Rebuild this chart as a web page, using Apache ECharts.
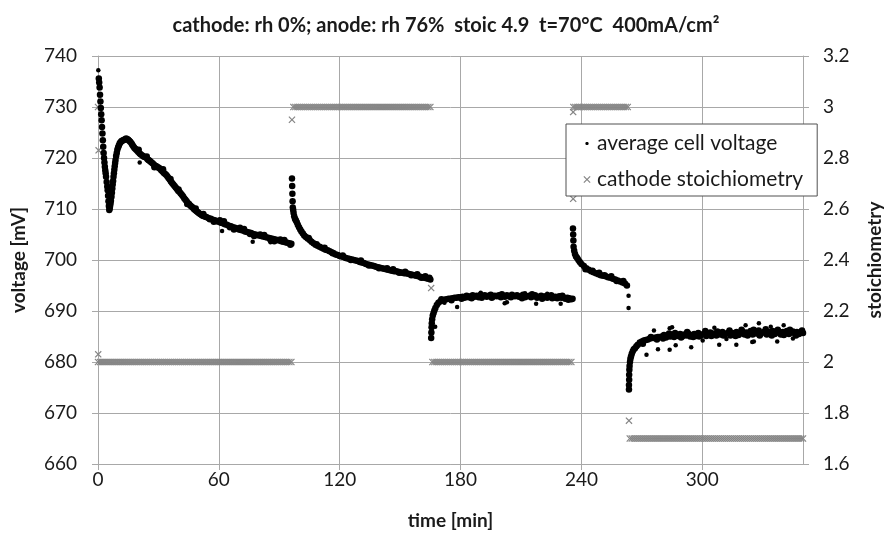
<!DOCTYPE html>
<html><head><meta charset="utf-8">
<script src="https://cdn.jsdelivr.net/npm/echarts@6/dist/echarts.min.js"></script>
<style>html,body{margin:0;padding:0;background:#fff}#c{width:892px;height:535px}</style>
</head><body><div id="c"></div>
<script>
// ---- data: [time (min), average cell voltage (mV)] – main trace ----
const voltSeg1 = [[0.4,735.6],[0.6,734.8],[0.8,733.8],[1.0,732.4],[1.2,731.1],[1.4,729.8],[1.6,728.6],[1.8,727.4],[2.0,726.1],[2.2,724.8],[2.4,723.5],[2.6,722.2],[2.8,721.0],[3.0,720.0],[3.2,719.1],[3.4,718.3],[3.6,717.6],[3.8,717.0],[4.0,716.3],[4.3,715.3],[4.6,714.4],[4.8,713.7],[5.0,712.6],[5.2,711.5],[5.4,710.6],[5.6,709.8],[5.8,710.1],[6.0,710.6],[6.2,711.1],[6.4,711.6],[6.7,712.4],[6.9,713.2],[7.1,714.0],[7.3,714.8],[7.5,715.5],[7.7,716.3],[7.9,717.0],[8.1,717.7],[8.3,718.4],[8.5,719.0],[8.7,719.6],[9.0,720.4],[9.3,721.0],[9.6,721.6],[10.0,722.1],[10.4,722.5],[10.8,722.9],[11.2,723.1],[11.6,723.3],[12,723.4],[12.5,723.5],[13,723.6],[13.5,723.7],[14,723.8],[14.6,723.7],[15,723.6],[15.5,723.4],[16,723.2],[16.6,722.9],[17,722.6],[17.5,722.3],[18,722.0],[18.5,721.8],[19,721.6],[19.5,721.4],[20,721.2],[20.7,720.9],[21.3,720.7],[22,720.5],[22.6,720.3],[23.2,720.2],[23.9,720.1],[24.5,719.8],[25,719.6],[25.5,719.5],[26,719.3],[26.6,719.1],[27.2,718.9],[27.8,718.7],[28.4,718.5],[29,718.4],[29.6,718.2],[30.2,718.1],[30.8,717.9],[31.4,717.6],[32,717.4],[32.6,717.1],[33.2,716.9],[33.8,716.7],[34.4,716.4],[35,716.1],[35.6,715.8],[36.2,715.4],[36.8,715.1],[37.4,714.8],[38,714.5],[38.6,714.2],[39.2,713.9],[39.8,713.6],[40.4,713.4],[41,713.1],[41.6,712.8],[42.2,712.5],[42.8,712.1],[43.4,711.8],[44,711.5],[44.6,711.2],[45.2,711.0],[45.8,710.7],[46.4,710.5],[47,710.3],[47.6,710.0],[48.2,709.8],[48.8,709.6],[49.4,709.4],[50,709.2],[50.7,709.0],[51.4,708.8],[52,708.7],[52.7,708.6],[53.4,708.5],[54,708.4],[55,708.2],[56,708.1],[57,707.9],[58,707.8],[59,707.6],[60,707.5],[61,707.3],[62,707.2],[63,707.0],[64,706.9],[65,706.7],[66,706.6],[67,706.4],[68,706.3],[69,706.2],[70,706.0],[71,705.9],[72,705.8],[73,705.6],[74,705.5],[75,705.4],[76,705.3],[77,705.1],[78,705.0],[79,704.9],[80,704.8],[81,704.7],[82,704.6],[83,704.5],[84,704.4],[85,704.3],[86,704.2],[87,704.1],[88,704.0],[89,703.9],[90,703.8],[91,703.7],[92,703.6],[93,703.5],[94,703.4],[95,703.3],[96,703.2],
  [20.2,721.6],[24.2,720.3],[28,718.2],[32.3,717.8],[36,715.9],[40,713.8],[44.3,711.0],[48.5,710.1],[52.3,709.0],[55.5,708.0],[57.5,707.5],[60.5,707.8],[62.5,707.6],[65.5,706.4],[67.5,706.0],[70.5,706.3],[72.5,706.1],[75.5,705.1],[77.5,704.7],[80.5,705.0],[82.5,704.9],[85.5,704.0],[87.5,703.7],[90.5,704.0],[92.5,703.9],[95.5,703.0]];
const voltSeg2 = [[96.3,716.0],[96.4,714.5],[96.5,713.0],[96.6,711.5],[96.7,710.3],[96.9,709.8],[97.1,709.2],[97.4,708.6],[97.8,708.1],[98.2,707.8],[98.7,707.4],[99.2,706.9],[99.8,706.4],[100.4,706.0],[101,705.6],[101.7,705.2],[102.4,704.8],[103.2,704.5],[104.1,704.2],[105.1,703.9],[106,703.6],[107,703.3],[108,703.0],[109,702.8],[110,702.6],[111,702.4],[112,702.2],[113,702.0],[114,701.9],[115,701.7],[116,701.5],[117,701.3],[118,701.1],[119,701.0],[120,700.8],[121,700.7],[122,700.6],[123,700.4],[124,700.3],[125,700.2],[126,700.1],[127,700.0],[128,699.9],[129,699.8],[130,699.6],[131,699.5],[132,699.4],[133,699.2],[134,699.1],[135,699.0],[136,698.9],[137,698.8],[138,698.7],[139,698.6],[140,698.5],[141,698.4],[142,698.3],[143,698.2],[144,698.1],[145,698.0],[146,697.9],[147,697.8],[148,697.8],[149,697.7],[150,697.6],[151,697.5],[152,697.4],[153,697.4],[154,697.3],[155,697.2],[156,697.1],[157,697.0],[158,696.9],[159,696.8],[160,696.7],[161,696.6],[162,696.5],[163,696.4],[164,696.3],[165,696.2],
  [104.6,704.3],[108.5,703.1],[112.5,702.4],[116.5,701.3],[121.5,700.9],[125.5,700.0],[130.5,699.9],[134.5,698.9],[139.5,698.4],[143.5,698.4],[146.5,698.2],[149.5,697.5],[152.5,697.7],[155.5,697.0],[158.5,697.2],[160.5,696.5],[162.5,696.8],[164.5,696.5]];
const voltSeg3 = [[165.4,684.7],[165.5,685.8],[165.6,686.8],[165.7,687.6],[165.9,688.4],[166.2,689.1],[166.6,689.6],[167,690.1],[167.5,690.6],[168.2,691.2],[169,691.6],[170,691.9],[171,692.1],[172,692.2],[173,692.3],[174,692.4],[175,692.4],[176,692.5],[177,692.6],[178,692.6],[179,692.7],[180,692.7],[181,692.8],[182,692.6],[183,693.0],[184,692.7],[185,692.9],[186,693.1],[187,692.8],[188,693.0],[189,692.7],[190,693.2],[191,692.9],[192,693.1],[193,692.8],[194,693.0],[195,693.2],[196,692.8],[197,693.0],[198,692.9],[199,693.1],[200,692.7],[201,693.0],[202,692.8],[203,693.1],[204,692.9],[205,692.7],[206,693.0],[207,692.9],[208,693.1],[209,692.8],[210,692.9],[211,693.2],[212,692.7],[213,692.9],[214,693.0],[215,692.7],[216,692.9],[217,693.1],[218,692.6],[219,692.8],[220,693.0],[221,692.7],[222,692.9],[223,692.6],[224,692.8],[225,693.1],[226,692.6],[227,692.8],[228,692.5],[229,692.9],[230,692.6],[231,692.7],[232,692.4],[233,692.6],[234,692.5],[235,692.3],[235.6,692.4],
  [170.5,692.3],[175.5,692.1],[180.5,692.4],[185.5,692.5],[190.5,692.6],[195.5,692.6],[200.5,693.3],[205.5,693.2],[210.5,692.5],[215.5,693.3],[220.5,692.4],[225.5,692.5],[230.5,693.0],[233.5,692.2]];
const voltSeg4 = [[235.8,706.2],[235.9,705.0],[236.0,703.8],[236.1,702.6],[236.4,701.8],[236.8,701.2],[237.3,700.7],[237.9,700.4],[238.5,700.0],[239.2,699.6],[240,699.2],[241.2,698.8],[242.4,698.4],[243.6,698.1],[244.8,697.8],[246,697.6],[247.2,697.4],[248.4,697.2],[249.6,697.0],[250.8,696.9],[252,696.8],[253.2,696.6],[254.4,696.5],[255.6,696.3],[256.8,696.2],[258,696.0],[259.2,695.8],[260.4,695.6],[261.6,695.4],[262.6,695.0],
  [242,698.2],[245.5,697.9],[248.8,697.5],[251.5,697.0],[254.8,696.8],[257.5,695.9],[260.8,695.9]];
const voltSeg5 = [[263.6,674.6],[263.6,675.5],[263.7,676.5],[263.7,677.5],[263.8,678.5],[263.9,679.2],[264.1,680.0],[264.3,680.6],[264.6,681.1],[265,681.6],[265.5,682.1],[266,682.5],[266.6,682.7],[267.3,683.1],[268,683.4],[269,683.8],[270,684.0],[271,684.2],[272,684.3],[273,684.4],[274,684.6],[275,684.7],[276,684.7],[277,684.8],[278,684.9],[279,684.9],[280,685.0],[281,685.3],[282,684.8],[283,685.2],[284,685.0],[285,685.4],[286,684.9],[287,685.3],[288,685.1],[289,685.5],[290,685.0],[291,685.4],[292,685.2],[293,685.6],[294,685.0],[295,685.3],[296,685.5],[297,685.1],[298,685.7],[299,685.2],[300,685.4],[301,685.6],[302,685.1],[303,685.5],[304,685.8],[305,685.3],[306,685.6],[307,685.2],[308,685.7],[309,685.4],[310,685.9],[311,685.3],[312,685.6],[313,685.8],[314,685.2],[315,685.7],[316,685.5],[317,685.9],[318,685.3],[319,685.6],[320,686.0],[321,685.4],[322,685.8],[323,685.5],[324,686.1],[325,685.4],[326,685.9],[327,685.6],[328,686.2],[329,685.5],[330,685.8],[331,686.0],[332,685.4],[333,685.9],[334,685.6],[335,686.1],[336,685.5],[337,685.8],[338,686.0],[339,685.4],[340,685.9],[341,685.7],[342,686.1],[343,685.5],[344,685.8],[345,686.0],[346,685.6],[347,685.9],[348,685.5],[349,685.8],[350,685.7],
  [270.5,683.6],[274.5,684.9],[277.5,684.4],[280.5,684.6],[283.5,685.6],[286.5,685.7],[289.5,684.8],[292.5,685.9],[295.5,684.9],[298.5,685.0],[301.5,686.1],[304.5,685.1],[307.5,686.0],[310.5,685.2],[313.5,686.2],[316.5,685.1],[319.5,686.3],[322.5,685.2],[325.5,686.3],[328.5,685.2],[331.5,686.4],[334.5,685.2],[337.5,686.3],[340.5,685.3],[343.5,686.3],[346.5,685.2],[349.5,686.2]];
// isolated readings away from the main trace
const voltStray = [[0.15,737.2],[20.7,719.1],[61.6,705.7],[76.8,703.6],[85.6,703.5],
  [178.3,690.8],[201.9,691.5],[203,691.7],[217.5,691.4],[229.7,691.4],[167.4,686.9],[172,691.6],[190,693.6],[212,693.5],[223,693.4],
  [263.4,693.0],[263.4,690.6],
  [272.3,681.4],[278,682.5],[283.8,682.4],[286.8,683.3],[294.5,682.9],[308.4,683.4],[316.9,683.4],[324.8,683.9],[325.6,684.0],[337.2,684.0],[328.1,687.6],[340.4,687.2],[321.5,687.2],[283.8,686.6],[276,686.2],[285,686.8],[300.2,684.2],[312,684.5],[345,684.6],[334,686.9],[306,686.7]];

// ---- data: cathode stoichiometry, one reading per minute within each setpoint block ----
const stoichBandAStart = 0;
const stoichBandA = [2,2,2,2,2,2,2,2,2,2, 2,2,2,2,2,2,2,2,2,2, 2,2,2,2,2,2,2,2,2,2, 2,2,2,2,2,2,2,2,2,2, 2,2,2,2,2,2,2,2,2,2,
  2,2,2,2,2,2,2,2,2,2, 2,2,2,2,2,2,2,2,2,2, 2,2,2,2,2,2,2,2,2,2, 2,2,2,2,2,2,2,2,2,2, 2,2,2,2,2,2,2];
const stoichBandBStart = 97;
const stoichBandB = [3,3,3,3,3,3,3,3,3,3, 3,3,3,3,3,3,3,3,3,3, 3,3,3,3,3,3,3,3,3,3, 3,3,3,3,3,3,3,3,3,3, 3,3,3,3,3,3,3,3,3,3,
  3,3,3,3,3,3,3,3,3,3, 3,3,3,3,3,3,3,3,3];
const stoichBandCStart = 166;
const stoichBandC = [2,2,2,2,2,2,2,2,2,2, 2,2,2,2,2,2,2,2,2,2, 2,2,2,2,2,2,2,2,2,2, 2,2,2,2,2,2,2,2,2,2, 2,2,2,2,2,2,2,2,2,2,
  2,2,2,2,2,2,2,2,2,2, 2,2,2,2,2,2,2,2,2,2];
const stoichBandDStart = 236;
const stoichBandD = [3,3,3,3,3,3,3,3,3,3, 3,3,3,3,3,3,3,3,3,3, 3,3,3,3,3,3,3,3];
const stoichBandEStart = 264;
const stoichBandE = [1.7,1.7,1.7,1.7,1.7,1.7,1.7,1.7,1.7,1.7, 1.7,1.7,1.7,1.7,1.7,1.7,1.7,1.7,1.7,1.7, 1.7,1.7,1.7,1.7,1.7,1.7,1.7,1.7,1.7,1.7,
  1.7,1.7,1.7,1.7,1.7,1.7,1.7,1.7,1.7,1.7, 1.7,1.7,1.7,1.7,1.7,1.7,1.7,1.7,1.7,1.7, 1.7,1.7,1.7,1.7,1.7,1.7,1.7,1.7,1.7,1.7,
  1.7,1.7,1.7,1.7,1.7,1.7,1.7,1.7,1.7,1.7, 1.7,1.7,1.7,1.7,1.7,1.7,1.7,1.7,1.7,1.7, 1.7,1.7,1.7,1.7,1.7,1.7,1.7];
const stoichTransitions = [[0,3.0],[0.3,2.83],[0.1,2.03],[96.3,2.95],[165.4,2.29],[235.9,2.98],[235.9,2.64],[263.6,1.77]];

const xTicks = [0,60,120,180,240,300];
const titleText = 'cathode: rh 0%; anode: rh 76%  stoic 4.9  t=70°C  400mA/cm²';
const seriesNames = ['average cell voltage', 'cathode stoichiometry'];

// ---- build ----
function band(start, values) { return values.map((v, i) => [start + i, v]); }
const voltageMain = [].concat(voltSeg1, voltSeg2, voltSeg3, voltSeg4, voltSeg5);
const voltageData = voltageMain.concat(voltStray);
const stoichData = [].concat(
  band(stoichBandAStart, stoichBandA), band(stoichBandBStart, stoichBandB),
  band(stoichBandCStart, stoichBandC), band(stoichBandDStart, stoichBandD),
  band(stoichBandEStart, stoichBandE), stoichTransitions);

const FONT = 'Lato';
const TXT = '#1a1a1a';
const GRID = '#a8a8a8';
const X_SYM = 'path://M0,1.2L1.2,0L5,3.8L8.8,0L10,1.2L6.2,5L10,8.8L8.8,10L5,6.2L1.2,10L0,8.8L3.8,5Z';
const X_ICON = 'path://M-2,-2M12,12M0,1.2L1.2,0L5,3.8L8.8,0L10,1.2L6.2,5L10,8.8L8.8,10L5,6.2L1.2,10L0,8.8L3.8,5Z';
const DOT_ICON = 'path://M0,0M10,10M3.4,4.3L4.3,3.4L5.7,3.4L6.6,4.3L6.6,5.7L5.7,6.6L4.3,6.6L3.4,5.7Z';

const chart = echarts.init(document.getElementById('c'), null, {renderer: 'canvas'});
chart.setOption({
  animation: false,
  backgroundColor: '#fff',
  title: {
    text: titleText, left: 'center', top: 11,
    textStyle: {fontFamily: FONT, fontSize: 20, fontWeight: 'bold', color: TXT}
  },
  grid: {left: 98, right: 80, top: 56, bottom: 70},
  legend: {
    left: 566, top: 124, orient: 'vertical',
    backgroundColor: '#fff', borderColor: '#505050', borderWidth: 1,
    padding: [9, 14, 6, 16], itemGap: 15, itemWidth: 10, itemHeight: 10,
    textStyle: {fontFamily: FONT, fontSize: 21, color: TXT},
    data: [{name: seriesNames[0], icon: DOT_ICON}, {name: seriesNames[1], icon: X_ICON}]
  },
  xAxis: {
    type: 'value', min: 0, max: 350, interval: 60,
    name: 'time [min]', nameLocation: 'middle', nameGap: 47,
    nameTextStyle: {fontFamily: FONT, fontSize: 19, fontWeight: 'bold', color: TXT},
    axisLine: {show: true, lineStyle: {color: GRID}},
    axisTick: {show: true, length: 6, lineStyle: {color: GRID}},
    axisLabel: {fontFamily: FONT, fontSize: 19, color: TXT, margin: 6, showMaxLabel: false,
      formatter: v => xTicks.indexOf(v) >= 0 ? String(v) : ''},
    splitLine: {show: true, lineStyle: {color: GRID, width: 1}}
  },
  yAxis: [{
    type: 'value', min: 660, max: 740, interval: 10, position: 'left',
    name: 'voltage [mV]', nameLocation: 'middle', nameGap: 70, nameRotate: 90,
    nameTextStyle: {fontFamily: FONT, fontSize: 19, fontWeight: 'bold', color: TXT},
    axisLine: {show: true, lineStyle: {color: GRID}},
    axisTick: {show: true, length: 6, lineStyle: {color: GRID}},
    axisLabel: {fontFamily: FONT, fontSize: 19, color: TXT, margin: 21},
    splitLine: {show: true, lineStyle: {color: GRID, width: 1}}
  }, {
    type: 'value', min: 1.6, max: 3.2, interval: 0.2, position: 'right',
    name: 'stoichiometry', nameLocation: 'middle', nameGap: 62, nameRotate: 90,
    nameTextStyle: {fontFamily: FONT, fontSize: 19, fontWeight: 'bold', color: TXT},
    axisLine: {show: true, lineStyle: {color: GRID}},
    axisTick: {show: true, length: 6, lineStyle: {color: GRID}},
    axisLabel: {fontFamily: FONT, fontSize: 19, color: TXT, margin: 20},
    splitLine: {show: false}
  }],
  series: [{
    name: seriesNames[0], type: 'scatter', yAxisIndex: 0, z: 3,
    symbol: 'circle', data: voltageData,
    symbolSize: (val, p) => p.dataIndex < voltageMain.length ? 6.5 : 4.5,
    itemStyle: {color: '#000', opacity: 1}, emphasis: {disabled: true}
  }, {
    name: seriesNames[1], type: 'scatter', yAxisIndex: 1, z: 2,
    symbol: X_SYM, symbolSize: 7, data: stoichData,
    itemStyle: {color: '#858585', opacity: 1}, emphasis: {disabled: true}
  }]
});
</script></body></html>
